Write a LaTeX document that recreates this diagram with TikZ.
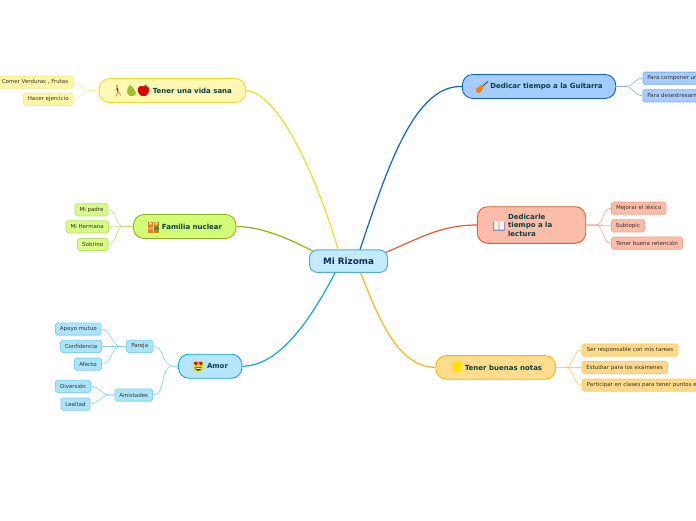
\documentclass[tikz,border=0pt]{standalone}
\usepackage{fontspec}
\setmainfont{DejaVu Sans}
\definecolor{txtroot}{HTML}{0F2A55}
\definecolor{txtmain}{HTML}{0A4040}
\definecolor{txtleaf}{HTML}{33332B}
\definecolor{yF}{HTML}{FFF8B5}\definecolor{yD}{HTML}{EEDD22}\definecolor{yL}{HTML}{FFF6A8}\definecolor{yB}{HTML}{F7EC85}
\definecolor{gF}{HTML}{D3FB7A}\definecolor{gD}{HTML}{8AB80E}\definecolor{gL}{HTML}{D8FA88}\definecolor{gB}{HTML}{BCE36E}
\definecolor{cF}{HTML}{B5E6FD}\definecolor{cD}{HTML}{0EA5E9}\definecolor{cL}{HTML}{AEE4FB}\definecolor{cB}{HTML}{80D3F6}
\definecolor{bF}{HTML}{A5CBFF}\definecolor{bD}{HTML}{0A5FD1}\definecolor{bL}{HTML}{A8CCFF}\definecolor{bB}{HTML}{7EB0F0}
\definecolor{oF}{HTML}{FBBDAA}\definecolor{oD}{HTML}{F0562A}\definecolor{oL}{HTML}{FBBCAA}\definecolor{oB}{HTML}{F8A48C}
\definecolor{aF}{HTML}{FFDC8C}\definecolor{aD}{HTML}{FBB515}\definecolor{aL}{HTML}{FFD98A}\definecolor{aB}{HTML}{FCCC66}
\tikzset{
  rootbox/.style={draw=#1!70!white,fill=cF!80!white,line width=1pt,rounded corners=8pt,inner sep=0pt,text=txtroot,font=\fontsize{8.8}{10}\selectfont\bfseries},
  mainbox/.style 2 args={draw=#1,fill=#2,line width=.9pt,rounded corners=10.5pt,inner sep=0pt,text=txtmain,font=\fontsize{7}{8.4}\selectfont\bfseries},
  leafbox/.style 2 args={draw=#1,fill=#2,line width=.8pt,rounded corners=1.8pt,inner sep=0pt,minimum height=12.2pt,text=txtleaf,font=\fontsize{5.5}{6.4}\selectfont},
  trunk/.style={line width=1.2pt,#1},
  twig/.style={line width=.6pt,#1},
}
\begin{document}
\begin{tikzpicture}[x=1pt,y=-1pt]
\useasboundingbox (0,0) rectangle (696,520);
% --- nodes
\node[rootbox=cD!50!bD,minimum width=78pt,minimum height=22.5pt] (root) at (348.5,261.2) {Mi Rizoma};
\node[mainbox={yD}{yF},minimum width=146.7pt,minimum height=24pt] (vida) at (172.4,90.6) {\hspace*{40pt}Tener una vida sana};
\node[mainbox={gD}{gF},minimum width=102.5pt,minimum height=24pt] (familia) at (184.7,226.5) {\hspace*{14.6pt}Familia nuclear};
\node[mainbox={cD}{cF},minimum width=63.5pt,minimum height=24pt] (amor) at (210.2,366.2) {\hspace*{14.6pt}Amor};
\node[mainbox={bD}{bF},minimum width=153.4pt,minimum height=24pt] (guitarra) at (539,86.5) {\hspace*{15pt}Dedicar tiempo a la Guitarra};
\node[mainbox={oD}{oF},minimum width=108.4pt,minimum height=36.6pt] (lectura) at (531.5,225) {\hspace*{5pt}\parbox{52pt}{\raggedright Dedicarle\\tiempo a la\\lectura}};
\node[mainbox={aD}{aF},minimum width=119.7pt,minimum height=23.7pt] (notas) at (495.8,367.4) {\hspace*{15.4pt}Tener buenas notas};
% leaves left
\node[leafbox={yB}{yL},minimum width=76pt] (comer) at (35,82.2) {Comer Verduras , Frutas};
\node[leafbox={yB}{yL},minimum width=49.5pt] (hacer) at (48.2,99.3) {Hacer ejercicio};
\node[leafbox={gB}{gL},minimum width=33pt] (padre) at (91.5,209.8) {Mi padre};
\node[leafbox={gB}{gL},minimum width=42.3pt] (hermana) at (87.2,226.8) {Mi Hermana};
\node[leafbox={gB}{gL},minimum width=30.5pt] (sobrino) at (92.7,244.5) {Sobrino};
\node[leafbox={cB}{cL},minimum width=45.5pt] (apoyo) at (78.3,329) {Apoyo mutuo};
\node[leafbox={cB}{cL},minimum width=41pt] (confianza) at (81,346.3) {Confidencia};
\node[leafbox={cB}{cL},minimum width=27pt] (afecto) at (88,364.2) {Afecto};
\node[leafbox={cB}{cL},minimum width=26.5pt] (pareja) at (139.7,346.3) {Pareja};
\node[leafbox={cB}{cL},minimum width=35pt] (diversion) at (73,386.3) {Diversión};
\node[leafbox={cB}{cL},minimum width=29pt] (lealtad) at (75.5,404) {Lealtad};
\node[leafbox={cB}{cL},minimum width=37.5pt] (amistades) at (133.7,395) {Amistades};
% leaves right
\node[leafbox={bB}{bL},anchor=west] (componer) at (642.5,78.2) {\hspace*{4.5pt}Para componer un\hspace*{20pt}};
\node[leafbox={bB}{bL},anchor=west] (desestres) at (642.5,95.8) {\hspace*{4.5pt}Para desestresarm\hspace*{20pt}};
\node[leafbox={oB}{oL},minimum width=54.5pt] (lexico) at (638.7,208.2) {Mejorar el léxico};
\node[leafbox={oB}{oL},minimum width=33pt] (subtopic) at (628,225.8) {Subtopic};
\node[leafbox={oB}{oL},minimum width=71pt] (retencion) at (647,243.2) {Tener buena retención};
\node[leafbox={aB}{aL},minimum width=96pt] (ser) at (630,350) {Ser responsable con mis tareas};
\node[leafbox={aB}{aL},minimum width=85.5pt] (estudiar) at (624.7,367.5) {Estudiar para los exámenes};
\node[leafbox={aB}{aL},anchor=west] (participar) at (582,385.2) {\hspace*{4.5pt}Participar en clases para tener puntos e\hspace*{20pt}};
% --- trunk connectors
\draw[trunk=yD] (vida.east) .. controls +(32,2) and +(-22,-75) .. ([xshift=-10.5pt]root.north);
\draw[trunk=gD] (familia.east) .. controls +(30,0) and +(-14,-7) .. ([xshift=-35pt,yshift=-2pt]root.north);
\draw[trunk=cD] (amor.east) .. controls +(40,0) and +(-20,38) .. ([xshift=-13.5pt]root.south);
\draw[trunk=bD] (guitarra.west) .. controls +(-50,-2) and +(24,-70) .. ([xshift=11.5pt]root.north);
\draw[trunk=oD] (lectura.west) .. controls +(-38,0) and +(30,-12) .. ([xshift=37pt,yshift=-3pt]root.north);
\draw[trunk=aD] (notas.west) .. controls +(-40,0) and +(16,38) .. ([xshift=12pt]root.south);
% --- twigs
\draw[twig=yB] (vida.west) -- ++(-9,0) to[out=180,in=0] (comer.east);
\draw[twig=yB] (vida.west) -- ++(-9,0) to[out=180,in=0] (hacer.east);
\draw[twig=gB] (familia.west) -- ++(-9,0) to[out=180,in=0] (padre.east);
\draw[twig=gB] (familia.west) -- (hermana.east);
\draw[twig=gB] (familia.west) -- ++(-9,0) to[out=180,in=0] (sobrino.east);
\draw[twig=cB] (amor.west) -- ++(-5,0) to[out=180,in=0] (pareja.east);
\draw[twig=cB] (amor.west) -- ++(-5,0) to[out=180,in=0] (amistades.east);
\draw[twig=cB] (pareja.west) -- ++(-5,0) to[out=180,in=0] (apoyo.east);
\draw[twig=cB] (pareja.west) -- (confianza.east);
\draw[twig=cB] (pareja.west) -- ++(-5,0) to[out=180,in=0] (afecto.east);
\draw[twig=cB] (amistades.west) -- ++(-5,0) to[out=180,in=0] (diversion.east);
\draw[twig=cB] (amistades.west) -- ++(-5,0) to[out=180,in=0] (lealtad.east);
\draw[twig=bB] (guitarra.east) -- ++(9,0) to[out=0,in=180] (componer.west);
\draw[twig=bB] (guitarra.east) -- ++(9,0) to[out=0,in=180] (desestres.west);
\draw[twig=oB] (lectura.east) -- ++(9,0) to[out=0,in=180] (lexico.west);
\draw[twig=oB] (lectura.east) -- (subtopic.west);
\draw[twig=oB] (lectura.east) -- ++(9,0) to[out=0,in=180] (retencion.west);
\draw[twig=aB] (notas.east) -- ++(9,0) to[out=0,in=180] (ser.west);
\draw[twig=aB] (notas.east) -- (estudiar.west);
\draw[twig=aB] (notas.east) -- ++(9,0) to[out=0,in=180] (participar.west);
% --- icons: runner, pear, apple
\draw[line width=1.1pt,teal!70!black] (117,87.5) -- (118,91.5);
\draw[line width=.7pt,orange!60!brown] (118,91.5) -- (116,96.5) (118,91.5) -- (121,95.5);
\fill[orange!60!brown] (117,86) circle (1.1pt);
\draw[line width=.4pt,orange!60!brown] (117,88) -- (115,91);
\fill[yellow!65!green!85!black] (129.5,85) .. controls (131.5,85) and (136,91) .. (136,93) .. controls (136,96) and (131,96.5) .. (129,95.5) .. controls (126.5,94) and (126.5,91) .. (127.5,89) .. controls (128.5,87.5) and (128.5,86) .. (129.5,85) -- cycle;
\fill[red!88!black] (143.5,86.5) .. controls (146.5,85) and (149.5,87) .. (149.2,90) .. controls (149,93.5) and (146,96.5) .. (143.5,96) .. controls (141,96.5) and (138,93.5) .. (137.8,90) .. controls (137.5,87) and (140.5,85) .. (143.5,86.5) -- cycle;
\fill[green!50!black] (143.5,86.5) -- (146.5,84) -- (145.5,86.5) -- cycle;
% family
\fill[orange!55!brown] (148,221.5) rectangle (153,233);
\fill[olive!65!orange] (153.5,221.5) rectangle (159,233);
\fill[orange!35!white] (150.5,223.5) circle (1.7pt) (156.2,223.5) circle (1.7pt);
\fill[teal!35!gray] (153.7,226.5) rectangle (158.7,229.5);
\fill[red!35!orange!60!white] (148.2,226.5) rectangle (152.8,229.5);
% heart-eyes face
\fill[yellow!80!orange] (198.3,366.5) circle (5.7pt);
\fill[red!85!black] (195,363) circle (1.3pt) (196.6,363) circle (1.3pt) (195.8,364.4) circle (1.1pt);
\fill[red!85!black] (200,363) circle (1.3pt) (201.6,363) circle (1.3pt) (200.8,364.4) circle (1.1pt);
\fill[black!70!brown] (194.7,367.4) .. controls (195.5,371.8) and (201,371.8) .. (201.8,367.4) -- cycle;
\fill[white!85!gray] (195.6,367.7) rectangle (200.9,368.7);
% guitar
\draw[line width=.9pt,gray!60!black] (482,86.5) -- (488,81.5);
\fill[orange!75!brown] (478.8,90) circle (3pt) (481.3,87.3) circle (2.2pt);
% open book
\fill[blue!30!gray!70!white] (493,221.5) rectangle (505,230.5);
\fill[white!90!orange] (494,221) rectangle (498.6,229.5) (499.4,221) rectangle (504,229.5);
% note
\fill[yellow!40!orange!50!white] (451,362.5) rectangle (453,372.5);
\fill[yellow!85!orange] (452.5,362) rectangle (461,372);
\end{tikzpicture}
\end{document}
